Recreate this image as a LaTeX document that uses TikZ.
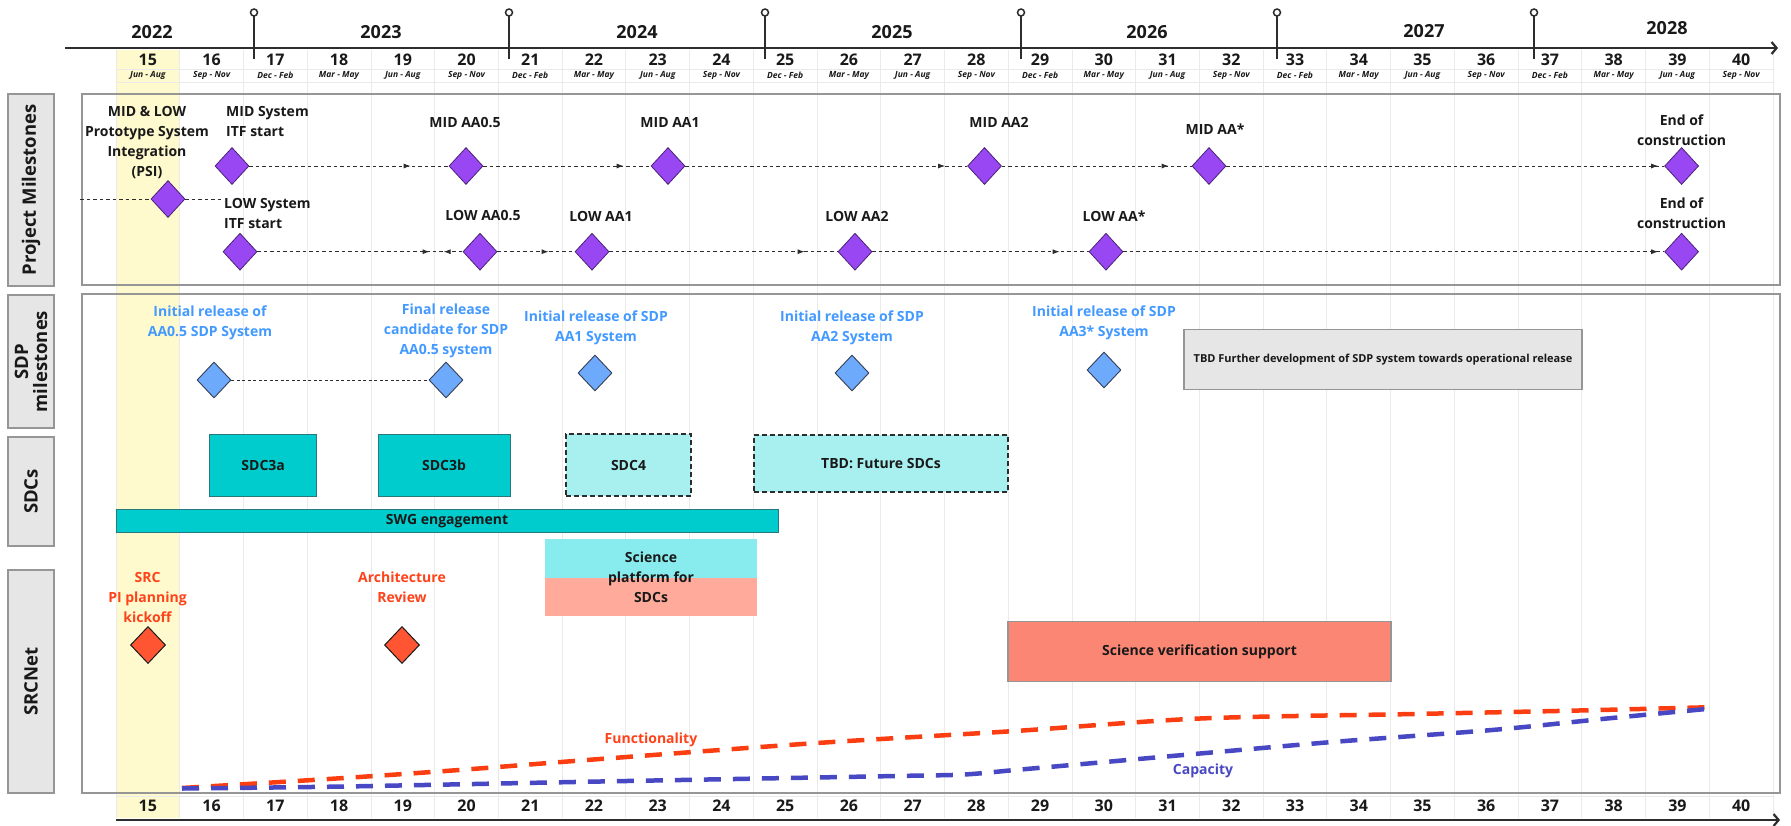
\documentclass[tikz,border=0pt]{standalone}
\usepackage{fontspec}
\setmainfont{Open Sans}
\usetikzlibrary{shapes.geometric,arrows.meta,decorations.markings}

\definecolor{pmpurple}{RGB}{153,71,242}
\definecolor{pmedge}{RGB}{74,35,120}
\definecolor{sdpblue}{RGB}{110,170,252}
\definecolor{sdpedge}{RGB}{52,62,86}
\definecolor{sdptext}{RGB}{66,153,255}
\definecolor{srcred}{RGB}{255,66,25}
\definecolor{srcfill}{RGB}{255,85,50}
\definecolor{sdcteal}{RGB}{0,204,206}
\definecolor{sdcedge}{RGB}{40,120,125}
\definecolor{sdclight}{RGB}{168,240,240}
\definecolor{platcyan}{RGB}{136,236,238}
\definecolor{platsalmon}{RGB}{255,170,155}
\definecolor{verisalmon}{RGB}{252,134,116}
\definecolor{funcred}{RGB}{250,62,18}
\definecolor{capblue}{RGB}{72,72,196}
\definecolor{framegray}{RGB}{150,150,150}
\definecolor{lanegray}{RGB}{230,230,230}
\definecolor{gridgray}{RGB}{234,234,234}
\definecolor{bandyellow}{RGB}{255,250,205}
\definecolor{axisdark}{RGB}{45,45,45}
\definecolor{labelblack}{RGB}{25,25,25}

\newcommand\fpx[2]{\fontsize{#1pt}{#2pt}\selectfont}

\tikzset{
  gridline/.style={draw=gridgray, line width=0.8pt},
  frame/.style={draw=framegray, line width=1.4pt},
  lanebox/.style={draw=framegray, fill=lanegray, line width=1.3pt},
  lanetext/.style={rotate=90, font=\fpx{18.5}{19}\bfseries, text=labelblack, align=center, inner sep=0pt},
  axis/.style={draw=axisdark, line width=2.2pt, -{Straight Barb[length=5pt,width=12pt]}},
  pin/.style={draw=axisdark, line width=2pt},
  yeartext/.style={font=\fpx{18}{20}\bfseries, text=labelblack},
  numtext/.style={font=\fpx{16}{18}\bfseries, text=labelblack},
  monthtext/.style={font=\fpx{8.5}{9}\bfseries\itshape, text=labelblack},
  pmstone/.style={diamond, draw=pmedge, fill=pmpurple, line width=0.8pt, minimum width=34pt, minimum height=37pt, inner sep=0pt},
  sdpstone/.style={diamond, draw=sdpedge, fill=sdpblue, line width=0.9pt, minimum width=34pt, minimum height=36pt, inner sep=0pt},
  srcstone/.style={diamond, draw=labelblack, fill=srcfill, line width=1pt, minimum width=35pt, minimum height=37pt, inner sep=0pt},
  pmtext/.style={font=\fpx{14}{20}\bfseries, text=labelblack, align=center, inner sep=0pt},
  sdptextnode/.style={pmtext, text=sdptext},
  srctext/.style={pmtext, text=srcred},
  pmdash/.style={draw=axisdark, line width=0.9pt, dash pattern=on 3.5pt off 3pt},
  pmlink/.style={pmdash, postaction={decorate},
    decoration={markings, mark=at position -#1 with {\arrow{Latex[length=7pt,width=5pt]}}}},
  sdpdash/.style={draw=axisdark, line width=0.8pt, dash pattern=on 3pt off 2.5pt},
  sdcbox/.style={draw=sdcedge, fill=sdcteal, line width=1pt, minimum height=62pt, inner sep=0pt, font=\fpx{14}{18}\bfseries, text=labelblack},
  sdcnext/.style={sdcbox, fill=sdclight, draw=axisdark, line width=1.2pt, dash pattern=on 5pt off 3pt},
  tbdbox/.style={draw=framegray, fill=lanegray, line width=1.2pt, minimum width=398pt, minimum height=60pt, inner sep=0pt, font=\fpx{11}{13}\bfseries, text=labelblack},
  platbox/.style={minimum width=212pt, minimum height=77pt, inner sep=0pt, align=center, font=\fpx{14}{20}\bfseries, text=labelblack,
    path picture={
      \fill[platcyan] (path picture bounding box.north west) rectangle (path picture bounding box.east);
      \fill[platsalmon] (path picture bounding box.west) rectangle (path picture bounding box.south east);}},
  verbox/.style={draw=framegray, fill=verisalmon, line width=1.2pt, minimum width=383pt, minimum height=60pt, inner sep=0pt, font=\fpx{14}{18}\bfseries, text=labelblack},
  funcline/.style={draw=funcred, line width=4.5pt, dash pattern=on 17pt off 12pt},
  capline/.style={draw=capblue, line width=4.5pt, dash pattern=on 17pt off 12pt}
}

\begin{document}
\begin{tikzpicture}[x=1pt, y=-1pt]
  \useasboundingbox (0,0) rectangle (1791,825);
  \fill[white] (0,0) rectangle (1791,825);

  % current quarter
  \fill[bandyellow] (116,50) rectangle (179.7,818);

  % quarter grid
  \foreach \k in {0,...,26}
    \draw[gridline] ({116+63.73*\k},50) -- ({116+63.73*\k},818);
  \draw[gridline] (116,69) -- (1773,69);
  \draw[gridline] (116,82) -- (1773,82);
  \draw[gridline] (116,796) -- (1773,796);

  % lanes
  \draw[lanebox] (8,94) rectangle (54,286);
  \draw[lanebox] (8,295) rectangle (54,428);
  \draw[lanebox] (8,437) rectangle (54,546);
  \draw[lanebox] (8,570) rectangle (54,793);
  \node[lanetext] (laneProject) at (31,190) {Project Milestones};
  \node[lanetext] (laneSDP) at (31,361.5) {SDP\\milestones};
  \node[lanetext] (laneSDC) at (31,491.5) {SDCs};
  \node[lanetext] (laneSRC) at (31,681.5) {SRCNet};
  \draw[frame] (82,94) rectangle (1780,285);
  \draw[frame] (82,294) rectangle (1780,793);

  % time axes
  \draw[axis] (65,48) -- (1778,48);
  \draw[axis] (116,820) -- (1780,820);
  \foreach \px in {254,509,765,1021,1277,1534} {
    \draw[pin] (\px,16) -- (\px,59);
    \draw[pin, fill=white, line width=1.5pt] (\px,12.5) circle [radius=3.5pt];
  }
  \foreach \yr/\px/\py in {2022/152/32, 2023/381/32, 2024/637/32, 2025/892/32, 2026/1147/32, 2027/1424/31, 2028/1667/28}
    \node[yeartext] (yr-\yr) at (\px,\py) {\yr};
  \foreach \n in {15,...,40} {
    \pgfmathsetmacro\cx{116+(\n-14.5)*63.73}
    \pgfmathtruncatemacro\q{mod(\n-15,4)}
    \node[numtext] (top-\n) at (\cx,60) {\n};
    \node[monthtext] (mon-\n) at (\cx,75.5) {\ifcase\q Jun - Aug\or Sep - Nov\or Dec - Feb\or Mar - May\fi};
    \node[numtext] (bot-\n) at (\cx,806) {\n};
  }

  % project milestones
  \node[pmstone] (psi) at (168,199) {};
  \node[pmstone] (midITF) at (232,166) {};
  \node[pmstone] (midAAhalf) at (466,166) {};
  \node[pmstone] (midAAone) at (668,166) {};
  \node[pmstone] (midAAtwo) at (984.5,166) {};
  \node[pmstone] (midAAstar) at (1209,166) {};
  \node[pmstone] (midEnd) at (1681.6,166) {};
  \node[pmstone] (lowITF) at (240,251.7) {};
  \node[pmstone] (lowAAhalf) at (480,251.7) {};
  \node[pmstone] (lowAAone) at (592,251.7) {};
  \node[pmstone] (lowAAtwo) at (855,251.7) {};
  \node[pmstone] (lowAAstar) at (1106,251.7) {};
  \node[pmstone] (lowEnd) at (1681.6,251.7) {};

  \node[pmtext] (psiTxt) at (147,142.5) {MID \& LOW\\Prototype System\\Integration\\(PSI)};
  \node[pmtext, anchor=west, align=left] (midITFTxt) at (226,121.7) {MID System\\ITF start};
  \node[pmtext, anchor=west, align=left] (lowITFTxt) at (224,213.3) {LOW System\\ITF start};
  \node[pmtext] (midAAhalfTxt) at (465,122.3) {MID AA0.5};
  \node[pmtext] (midAAoneTxt) at (670,122.3) {MID AA1};
  \node[pmtext] (midAAtwoTxt) at (999,122.3) {MID AA2};
  \node[pmtext] (midAAstarTxt) at (1215,129.3) {MID AA*};
  \node[pmtext] (midEndTxt) at (1681.6,130) {End of\\construction};
  \node[pmtext] (lowAAhalfTxt) at (483,216) {LOW AA0.5};
  \node[pmtext] (lowAAoneTxt) at (601,216) {LOW AA1};
  \node[pmtext] (lowAAtwoTxt) at (857,216) {LOW AA2};
  \node[pmtext] (lowAAstarTxt) at (1114,216) {LOW AA*};
  \node[pmtext] (lowEndTxt) at (1681.6,213.3) {End of\\construction};

  \coordinate (psiL) at (80,199);
  \coordinate (psiR) at (224,199);
  \draw[pmdash] (psiL) -- (psi) -- (psiR);
  \draw[pmlink=38pt] (midITF) -- (midAAhalf);
  \draw[pmlink=27pt] (midAAhalf) -- (midAAone);
  \draw[pmlink=22pt] (midAAone) -- (midAAtwo);
  \draw[pmlink=23pt] (midAAtwo) -- (midAAstar);
  \draw[pmlink=6pt] (midAAstar) -- (midEnd);
  \draw[pmdash, postaction={decorate}, decoration={markings,
      mark=at position -33pt with {\arrow{Latex[length=7pt,width=5pt]}},
      mark=at position -19pt with {\arrowreversed{Latex[length=7pt,width=5pt]}}}] (lowITF) -- (lowAAhalf);
  \draw[pmlink=26pt] (lowAAhalf) -- (lowAAone);
  \draw[pmlink=33pt] (lowAAone) -- (lowAAtwo);
  \draw[pmlink=29pt] (lowAAtwo) -- (lowAAstar);
  \draw[pmlink=6pt] (lowAAstar) -- (lowEnd);

  % SDP milestones
  \node[sdpstone] (sdpOne) at (214,380) {};
  \node[sdpstone] (sdpTwo) at (446,380) {};
  \node[sdpstone] (sdpThree) at (595,373) {};
  \node[sdpstone] (sdpFour) at (852,373) {};
  \node[sdpstone] (sdpFive) at (1104,370) {};
  \draw[sdpdash] (sdpOne) -- (sdpTwo);
  \node[sdptextnode] (sdpOneTxt) at (210,323.3) {Initial release of\\AA0.5 SDP System};
  \node[sdptextnode] (sdpTwoTxt) at (446,331.2) {Final release\\candidate for SDP\\AA0.5 system};
  \node[sdptextnode] (sdpThreeTxt) at (596,328.3) {Initial release of SDP\\AA1 System};
  \node[sdptextnode] (sdpFourTxt) at (852,328.3) {Initial release of SDP\\AA2 System};
  \node[sdptextnode] (sdpFiveTxt) at (1104,323) {Initial release of SDP\\AA3* System};
  \node[tbdbox] (sdpTBD) at (1383,359.3) {TBD Further development of SDP system towards operational release};

  % SDCs
  \node[sdcbox, minimum width=106.5pt] (sdcA) at (263.2,465.5) {SDC3a};
  \node[sdcbox, minimum width=132pt] (sdcB) at (444,465.5) {SDC3b};
  \node[sdcnext, minimum width=125pt] (sdcC) at (628.5,465) {SDC4};
  \node[sdcnext, minimum width=254pt, minimum height=57pt] (sdcFuture) at (881,463.5) {TBD: Future SDCs};
  \node[sdcbox, minimum width=662pt, minimum height=22.7pt] (swg) at (447,521.3) {SWG engagement};

  % SRCNet
  \node[platbox] (sciPlat) at (651,577.5) {Science\\platform for\\SDCs};
  \node[verbox] (sciVer) at (1199.5,651.7) {Science verification support};
  \node[srcstone] (srcKick) at (148,645) {};
  \node[srcstone] (srcArch) at (402,645) {};
  \node[srctext] (srcKickTxt) at (147.5,597) {SRC\\PI planning\\kickoff};
  \node[srctext] (srcArchTxt) at (402,587) {Architecture\\Review};

  \draw[funcline] plot[smooth] coordinates {(182,788) (344,778) (459,770) (600,759) (817,743) (1015,731) (1200,718.5) (1414,714) (1570,710.7) (1706,707.3)};
  \draw[capline] plot[smooth] coordinates {(182,788.5) (344,786.5) (600,781.5) (896,776) (964,774.5) (1015,770) (1094,763) (1200,753.5) (1336,741.7) (1492,730) (1609,718.3) (1706,709)};
  \node[srctext] (funcTxt) at (651,740) {Functionality};
  \node[pmtext, text=capblue] (capTxt) at (1203,771) {Capacity};
\end{tikzpicture}
\end{document}
